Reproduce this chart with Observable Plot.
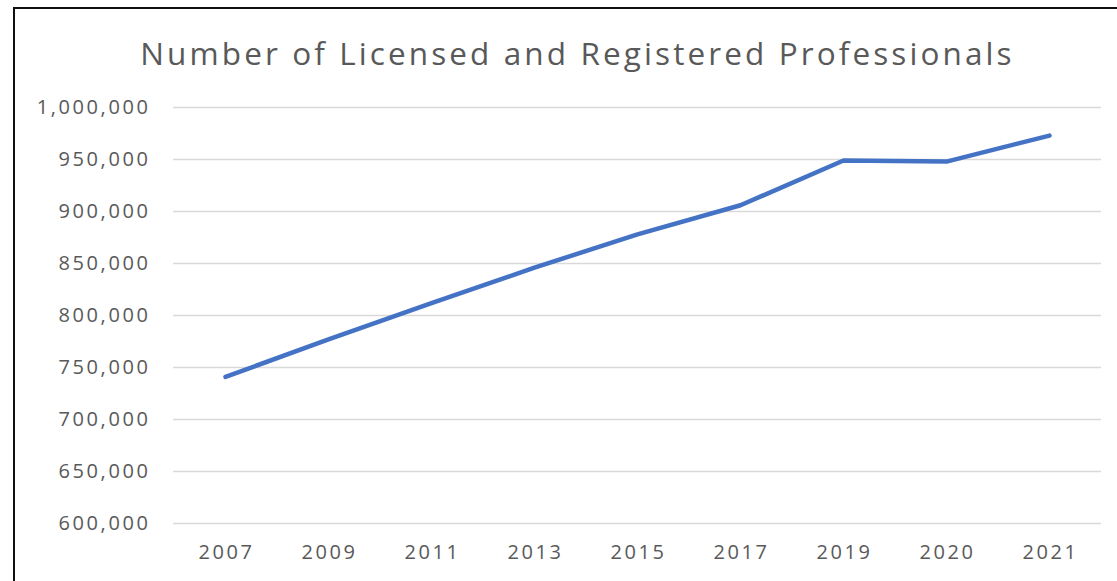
<!DOCTYPE html>
<html>
<head>
<meta charset="utf-8">
<script src="https://cdn.jsdelivr.net/npm/d3@7"></script>
<script src="https://cdn.jsdelivr.net/npm/@observablehq/plot@0.6"></script>
<style>
  html, body { margin: 0; padding: 0; background: #fff; }
  #wrap { position: relative; width: 1117px; height: 581px; overflow: hidden; background: #fff; }
  #frame { position: absolute; left: 13px; top: 7px; width: 1200px; height: 700px;
           border-left: 2px solid #111; border-top: 2px solid #111; pointer-events: none; }
  #title { box-sizing: border-box; font-family: "Open Sans", sans-serif; font-size: 31.5px; color: #595959;
           text-align: center; padding-left: 38px; letter-spacing: 3.1px; position: relative;
           top: -27px; margin-bottom: -27px; height: 107px; line-height: 160px; white-space: nowrap; }
  #chart svg { display: block; }
</style>
</head>
<body>
<div id="wrap">
  <div id="title">Number of Licensed and Registered Professionals</div>
  <div id="chart"></div>
  <div id="frame"></div>
</div>
<script>
const years = ["2007", "2009", "2011", "2013", "2015", "2017", "2019", "2020", "2021"];
const professionals = [741000, 777000, 812000, 846000, 878000, 906000, 949000, 948000, 973000];
const yTicks = [600000, 650000, 700000, 750000, 800000, 850000, 900000, 950000, 1000000];

const data = years.map((y, i) => ({year: y, value: professionals[i]}));

const plot = Plot.plot({
  width: 1117,
  height: 501,
  marginLeft: 173,
  marginRight: 16,
  marginTop: 27,
  marginBottom: 58,
  style: {fontFamily: "'Open Sans', sans-serif", fontSize: "20px", color: "#595959", background: "white"},
  x: {type: "point", domain: years, padding: 0.5, label: null},
  y: {domain: [600000, 1000000], label: null},
  marks: [
    Plot.ruleY(yTicks, {stroke: "#d9d9d9", strokeWidth: 1.5}),
    Plot.axisY({ticks: yTicks, tickFormat: d3.format(","), tickSize: 0, tickPadding: 23, fill: "#595959", label: null, fontSize: 20}),
    Plot.axisX({tickSize: 0, tickPadding: 21, fill: "#595959", label: null, fontSize: 20, dx: 1}),
    Plot.line(data, {x: "year", y: "value", stroke: "#4472C4", strokeWidth: 4.5, strokeLinecap: "round", strokeLinejoin: "round"})
  ]
});
plot.querySelectorAll("text").forEach(t => t.setAttribute("letter-spacing", "2.6"));
document.getElementById("chart").appendChild(plot);
</script>
</body>
</html>
